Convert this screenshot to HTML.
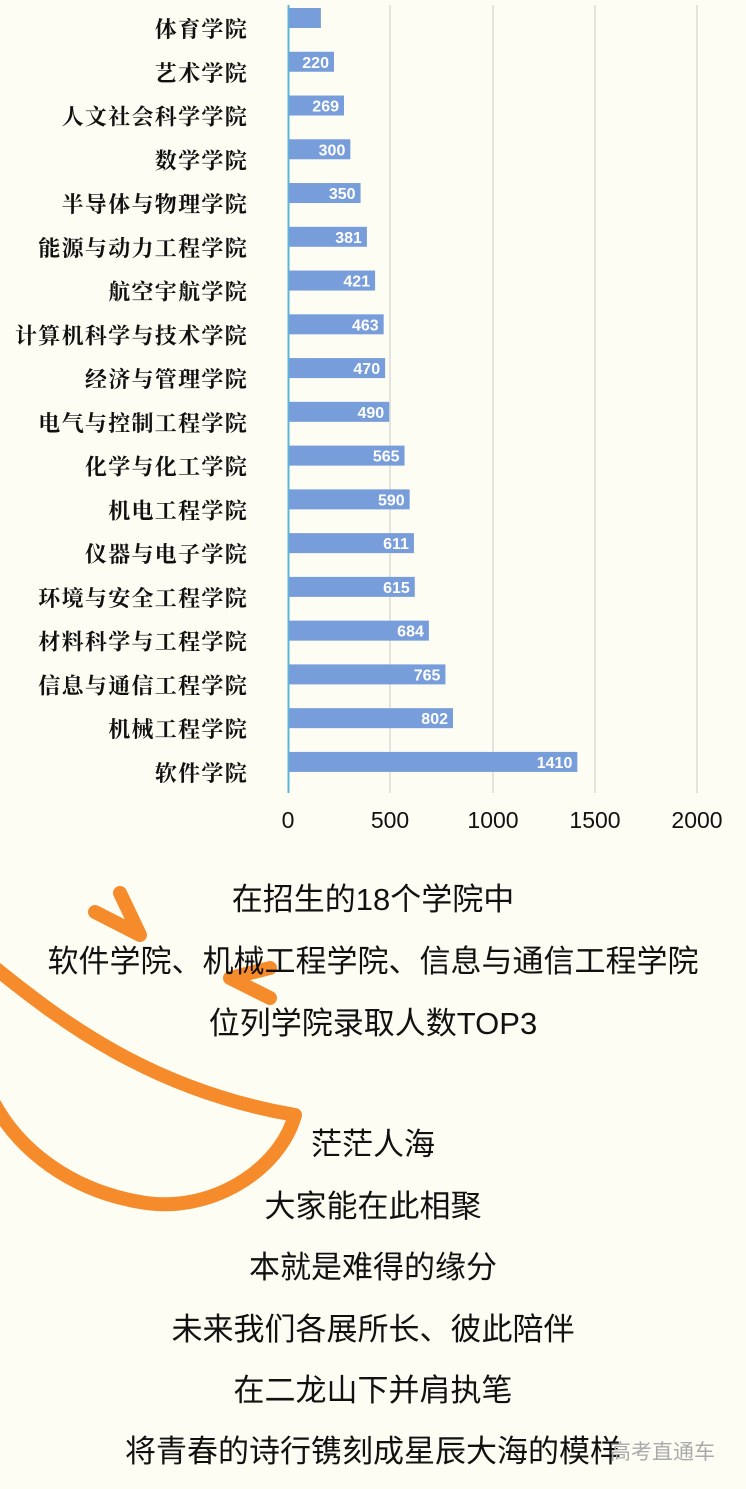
<!DOCTYPE html>
<html><head><meta charset="utf-8"><style>
body{margin:0;background:#fdfdf4;}
.w{position:relative;width:746px;height:1489px;overflow:hidden;background:#fdfdf4;font-family:"Liberation Sans","Noto Sans CJK SC",sans-serif;}
.t{position:absolute;left:0;width:746px;text-align:center;font-size:31px;color:#111;line-height:36px;}
</style></head><body><div class="w">
<svg width="746" height="860" style="position:absolute;left:0;top:0" font-family="'Noto Serif CJK SC','Noto Sans CJK SC',sans-serif">
<g stroke="#dcdcd4" stroke-width="1.5">
<line x1="390" y1="5" x2="390" y2="793"/><line x1="493" y1="5" x2="493" y2="793"/><line x1="595" y1="5" x2="595" y2="793"/><line x1="697" y1="5" x2="697" y2="793"/>
</g>
<line x1="288.5" y1="5" x2="288.5" y2="793" stroke="#5ab6d6" stroke-width="2"/>
<g id="bars"></g>
<g font-family="'Liberation Sans',sans-serif" font-size="23" fill="#111" text-anchor="middle">
<text x="288" y="828">0</text><text x="390" y="828">500</text><text x="493" y="828">1000</text><text x="595" y="828">1500</text><text x="697" y="828">2000</text>
</g>
</svg>
<svg width="746" height="1489" style="position:absolute;left:0;top:0" fill="none" stroke="#f68b2c" stroke-width="14" stroke-linecap="round" stroke-linejoin="round">
<path d="M-5 968 C60 1020,150 1090,295 1115 C280 1170,210 1215,140 1202 C70 1190,20 1150,-5 1105"/>
<path d="M95 912 L140 935 L120 893"/>
<path d="M230 978 L270 968 M230 978 L270 998"/>
</svg>
<div class="t" style="top:882px">在招生的18个学院中</div>
<div class="t" style="top:944px">软件学院、机械工程学院、信息与通信工程学院</div>
<div class="t" style="top:1006px">位列学院录取人数TOP3</div>
<div class="t" style="top:1127px">茫茫人海</div>
<div class="t" style="top:1189px">大家能在此相聚</div>
<div class="t" style="top:1250px">本就是难得的缘分</div>
<div class="t" style="top:1312px">未来我们各展所长、彼此陪伴</div>
<div class="t" style="top:1373px">在二龙山下并肩执笔</div>
<div class="t" style="top:1434px">将青春的诗行镌刻成星辰大海的模样</div>
<div style="position:absolute;left:610px;top:1436px;font-size:21px;color:#aaa;font-family:'Noto Sans CJK SC',sans-serif">高考直通车</div>
<script>
var d=[["体育学院",156,""],["艺术学院",220],["人文社会科学学院",269],["数学学院",300],["半导体与物理学院",350],["能源与动力工程学院",381],["航空宇航学院",421],["计算机科学与技术学院",463],["经济与管理学院",470],["电气与控制工程学院",490],["化学与化工学院",565],["机电工程学院",590],["仪器与电子学院",611],["环境与安全工程学院",615],["材料科学与工程学院",684],["信息与通信工程学院",765],["机械工程学院",802],["软件学院",1410]];
var s="";
d.forEach(function(r,i){var c=18+i*43.76,w=r[1]*0.2045;
s+='<rect x="289" y="'+(c-10)+'" width="'+w+'" height="20" fill="#789ddb"/>';
s+='<text x="248" y="'+(c+19)+'" font-size="22" letter-spacing="1.3" font-weight="bold" fill="#111" text-anchor="end">'+r[0]+'</text>';
if(r[2]!=="")s+='<text x="'+(289+w-5)+'" y="'+(c+6)+'" font-size="16" font-weight="bold" fill="#fff" text-anchor="end" font-family="Liberation Sans,sans-serif">'+r[1]+'</text>';});
document.getElementById("bars").innerHTML=s;
</script>
</div></body></html>
